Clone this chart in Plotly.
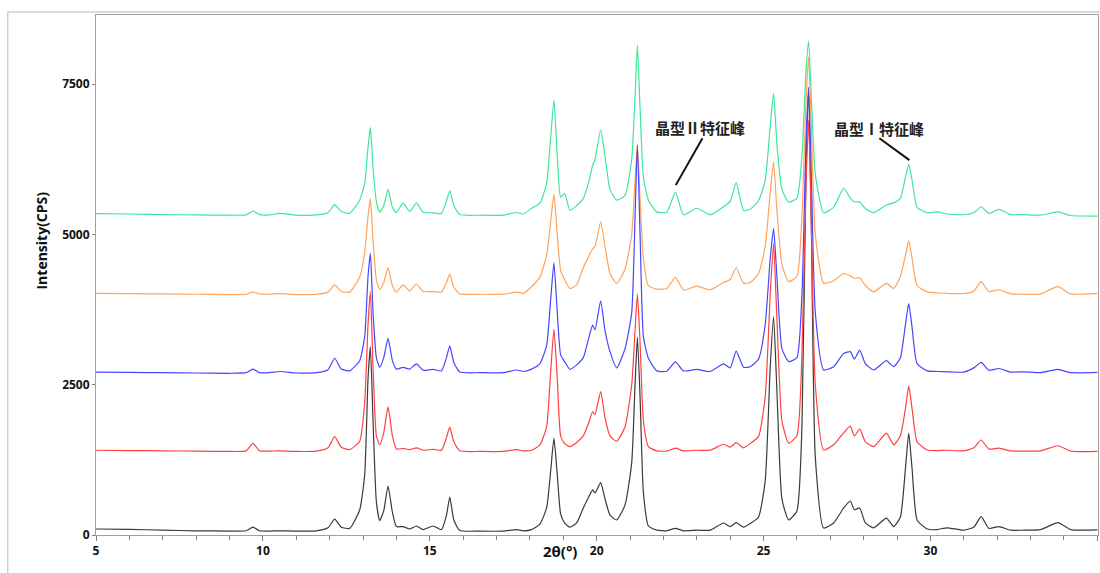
import plotly.graph_objects as go

# 2θ grid (degrees) shared by all patterns
two_theta = [5.0, 6.0, 7.0, 8.0, 9.0, 9.5, 9.7, 9.9, 10.2, 10.5,
             11.0, 11.6, 11.95, 12.15, 12.35, 12.6, 12.9, 13.05, 13.15, 13.22,
             13.3, 13.4, 13.5, 13.62, 13.75, 13.88, 14.0, 14.2, 14.4, 14.6,
             14.8, 15.1, 15.35, 15.5, 15.6, 15.72, 15.9, 16.5, 17.2, 17.6,
             17.8, 18.05, 18.3, 18.5, 18.62, 18.72, 18.82, 18.92, 19.04, 19.2,
             19.4, 19.6, 19.75, 19.88, 19.95, 20.12, 20.25, 20.4, 20.6, 20.85,
             21.05, 21.15, 21.22, 21.3, 21.4, 21.55, 21.8, 22.1, 22.36, 22.6,
             23.0, 23.4, 23.8, 24.0, 24.18, 24.4, 24.6, 24.85, 25.05, 25.2,
             25.3, 25.4, 25.55, 25.75, 26.0, 26.15, 26.27, 26.35, 26.43, 26.55,
             26.8, 27.1, 27.4, 27.6, 27.72, 27.88, 28.05, 28.3, 28.68, 28.9,
             29.1, 29.25, 29.35, 29.45, 29.6, 29.9, 30.2, 30.5, 31.0, 31.3,
             31.52, 31.75, 32.05, 32.4, 32.8, 33.3, 33.82, 34.2, 35.0]

black_cps = [100, 95, 80, 70, 65, 70, 130, 70, 65, 70,
             65, 70, 120, 265, 130, 110, 415, 1000, 2600, 3130,
             1900, 550, 240, 400, 815, 380, 140, 140, 100, 150,
             90, 150, 90, 330, 630, 250, 75, 65, 65, 90,
             70, 90, 180, 450, 1050, 1610, 1000, 350, 200, 130,
             200, 450, 620, 750, 700, 870, 600, 330, 250, 500,
             1200, 2500, 3290, 2300, 700, 150, 80, 70, 110, 70,
             80, 80, 200, 140, 205, 130, 190, 300, 900, 2800,
             3630, 2400, 600, 250, 400, 1800, 6000, 7400, 5200, 1300,
             115, 200, 450, 565, 420, 450, 200, 120, 280, 140,
             300, 1100, 1695, 1100, 250, 100, 90, 120, 80, 130,
             305, 110, 140, 80, 80, 90, 205, 90, 85]

red_cps = [1410, 1405, 1400, 1395, 1390, 1400, 1525, 1400, 1395, 1400,
           1390, 1395, 1450, 1635, 1460, 1420, 1560, 2200, 3500, 4050,
           2800, 1650, 1500, 1700, 2130, 1650, 1430, 1440, 1420, 1450,
           1410, 1425, 1410, 1620, 1795, 1550, 1400, 1390, 1390, 1420,
           1400, 1410, 1500, 1800, 2700, 3425, 2600, 1650, 1520, 1470,
           1540, 1650, 1850, 2050, 2000, 2385, 1950, 1650, 1560, 1800,
           2500, 3400, 4010, 3200, 1900, 1470, 1400, 1395, 1445, 1400,
           1410, 1410, 1510, 1460, 1535, 1450, 1520, 1640, 2300, 4000,
           4850, 3600, 1900, 1530, 1650, 3000, 5800, 6900, 5200, 2500,
           1415, 1500, 1700, 1810, 1645, 1760, 1550, 1470, 1695, 1500,
           1650, 2100, 2480, 2100, 1550, 1415, 1405, 1410, 1400, 1450,
           1580, 1430, 1445, 1400, 1395, 1400, 1485, 1395, 1390]

blue_cps = [2710, 2705, 2700, 2695, 2690, 2700, 2760, 2700, 2700, 2720,
            2695, 2700, 2750, 2940, 2760, 2730, 2900, 3300, 4300, 4690,
            3700, 2950, 2790, 2950, 3270, 2900, 2760, 2790, 2760, 2845,
            2740, 2755, 2730, 2950, 3145, 2870, 2710, 2700, 2700, 2745,
            2720, 2760, 2850, 3150, 3900, 4530, 3700, 3000, 2885, 2755,
            2830, 2950, 3250, 3490, 3410, 3895, 3400, 3050, 2780, 3100,
            3700, 5300, 6485, 5000, 3300, 2940, 2730, 2725, 2880, 2730,
            2755, 2720, 2845, 2780, 3060, 2790, 2800, 2925, 3500, 4600,
            5100, 4300, 3100, 2885, 2950, 4000, 6500, 7450, 6000, 3700,
            2745, 2800, 3020, 3050, 2925, 3075, 2850, 2745, 2900, 2800,
            2950, 3500, 3850, 3450, 2850, 2730, 2720, 2715, 2710, 2780,
            2870, 2740, 2770, 2710, 2715, 2700, 2755, 2700, 2705]

orange_cps = [4020, 4015, 4010, 4005, 4000, 4005, 4045, 4010, 4005, 4015,
              4000, 4005, 4040, 4160, 4050, 4040, 4290, 4700, 5300, 5600,
              4900, 4250, 4080, 4200, 4450, 4150, 4040, 4160, 4060, 4175,
              4050, 4050, 4040, 4200, 4340, 4120, 4010, 4005, 4005, 4040,
              4020, 4130, 4290, 4650, 5200, 5670, 5000, 4400, 4250, 4100,
              4160, 4450, 4620, 4765, 4800, 5210, 4800, 4350, 4185, 4420,
              5000, 5900, 6500, 5600, 4600, 4150, 4090, 4100, 4285, 4075,
              4140, 4080, 4200, 4250, 4450, 4190, 4200, 4350, 4800, 5700,
              6210, 5400, 4500, 4215, 4300, 5300, 7200, 7950, 6800, 5000,
              4190, 4230, 4350, 4310, 4270, 4280, 4150, 4045, 4185, 4100,
              4300, 4650, 4895, 4600, 4150, 4045, 4030, 4020, 4015, 4060,
              4215, 4050, 4080, 4015, 4005, 4010, 4130, 4010, 4020]

green_cps = [5345, 5340, 5330, 5325, 5320, 5325, 5390, 5330, 5325, 5350,
             5320, 5325, 5360, 5495, 5380, 5350, 5570, 5850, 6450, 6780,
             6100, 5550, 5370, 5480, 5750, 5450, 5360, 5525, 5380, 5525,
             5370, 5360, 5350, 5560, 5725, 5480, 5330, 5320, 5320, 5365,
             5340, 5435, 5520, 5850, 6600, 7235, 6300, 5620, 5680, 5400,
             5480, 5600, 5850, 6150, 6250, 6735, 6300, 5750, 5570, 5650,
             6250, 7300, 8150, 7100, 5950, 5570, 5375, 5370, 5705, 5325,
             5435, 5325, 5460, 5550, 5860, 5400, 5420, 5560, 5900, 6800,
             7350, 6500, 5750, 5540, 5600, 6300, 7700, 8215, 7300, 6000,
             5360, 5450, 5765, 5600, 5540, 5540, 5430, 5360, 5490, 5525,
             5600, 5950, 6170, 5900, 5450, 5360, 5375, 5340, 5330, 5360,
             5460, 5350, 5415, 5330, 5330, 5320, 5375, 5315, 5305]

y_ticks = [0, 2500, 5000, 7500]
x_ticks = [5, 10, 15, 20, 25, 30, 35]

label_form2 = "晶型Ⅱ特征峰"
label_form1 = "晶型Ⅰ特征峰"

series = [
    ("green", green_cps, "#3ee79a"),
    ("orange", orange_cps, "#ffa35a"),
    ("black", black_cps, "#3a3a3a"),
    ("blue", blue_cps, "#4646ff"),
    ("red", red_cps, "#ff4040"),
]

fig = go.Figure()
for name, vals, col in series:
    fig.add_trace(go.Scatter(x=two_theta, y=vals, mode="lines", name=name,
                             line=dict(color=col, width=1.2, shape="spline", smoothing=0.5),
                             showlegend=False))

font_main = "Open Sans, Noto Sans, sans-serif"
cjk = "Noto Sans CJK SC"

fig.update_layout(
    width=1100, height=573,
    margin=dict(l=96, r=2, t=15, b=38),
    paper_bgcolor="white", plot_bgcolor="white",
    xaxis=dict(range=[5, 35.02], tickvals=x_ticks, ticks="outside", ticklen=5,
               tickcolor="#808080", showgrid=False, zeroline=False,
               showline=True, linecolor="#a0a0a0", mirror=True, automargin=False,
               tickfont=dict(family=font_main, size=12, color="#111", weight="bold"),
               minor=dict(dtick=1, ticks="outside", ticklen=4, tickcolor="#808080")),
    yaxis=dict(range=[0, 8650], tickvals=y_ticks, ticks="outside", ticklen=3,
               tickcolor="#808080", showgrid=False, zeroline=False,
               showline=True, linecolor="#a0a0a0", mirror=True, automargin=False,
               tickfont=dict(family=font_main, size=12, color="#111", weight="bold")),
    annotations=[
        dict(text="<b>Intensity(CPS)</b>", xref="paper", yref="paper",
             x=-0.066, y=0.567, textangle=-90, showarrow=False,
             font=dict(family=font_main, size=14, color="#111")),
        dict(text="<b>2θ(°)</b>", xref="paper", yref="paper",
             x=0.463, y=-0.054, showarrow=False,
             font=dict(family=font_main, size=15, color="#111")),
        dict(text="<b>" + label_form2 + "</b>", x=23.11, y=6785, showarrow=False,
             font=dict(family=cjk, size=15, color="#222")),
        dict(text="<b>" + label_form1 + "</b>", x=28.47, y=6770, showarrow=False,
             font=dict(family=cjk, size=15, color="#222")),
    ],
    shapes=[
        dict(type="line", x0=22.37, y0=5820, x1=23.17, y1=6600,
             line=dict(color="#111", width=2)),
        dict(type="line", x0=28.47, y0=6600, x1=29.37, y1=6235,
             line=dict(color="#111", width=2)),
        dict(type="rect", xref="paper", yref="paper", x0=-0.088, y0=-0.2,
             x1=1.05, y1=1.0058, line=dict(color="#b8b8b8", width=1), layer="below"),
    ],
)

fig.write_html("out.html", config={"displayModeBar": False},
               post_script="document.body.style.margin='0';document.body.style.overflow='hidden';")
